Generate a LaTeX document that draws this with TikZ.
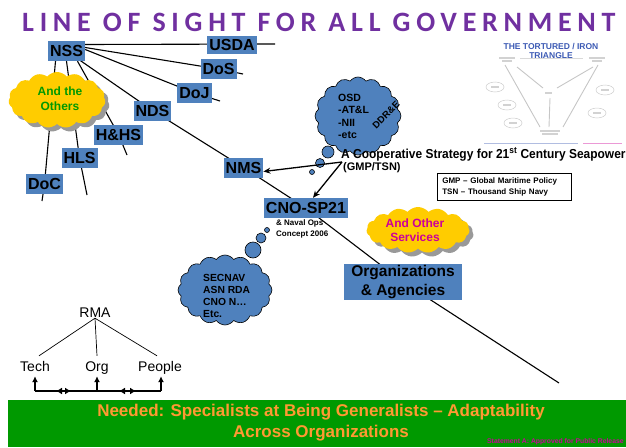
\documentclass[tikz,border=0pt]{standalone}
\usepackage{fontspec}
\setmainfont{Liberation Sans}
\newfontfamily\titlefont[LetterSpace=20.5]{Carlito}
\usetikzlibrary{shapes.symbols,shadows,arrows.meta,backgrounds}
\definecolor{boxblue}{RGB}{79,129,189}
\definecolor{titlepurple}{RGB}{112,48,160}
\definecolor{cloudyellow}{RGB}{255,204,0}
\definecolor{bannergreen}{RGB}{0,153,0}
\definecolor{bannerorange}{RGB}{255,153,51}
\definecolor{magtext}{RGB}{204,0,153}
\definecolor{othersgreen}{RGB}{0,153,0}
\definecolor{tritext}{RGB}{60,90,180}
\newcommand{\fsz}[2]{\fontsize{#1}{#2}\selectfont}
\begin{document}
\begin{tikzpicture}[x=1pt,y=-1pt,
  box/.style={fill=boxblue, inner xsep=2pt, inner ysep=0pt, minimum height=20pt, font=\bfseries\fsz{16}{18}, text=black},
  link/.style={line width=1.1pt, black},
  bubble/.style={circle, draw=black, line width=0.6pt, fill=boxblue, inner sep=0pt},
  bluecloud/.style={cloud, cloud puffs=16, cloud puff arc=110, draw=black, line width=0.6pt, fill=boxblue, inner sep=0pt},
  yellowcloud/.style={cloud, cloud puffs=15, cloud puff arc=100, fill=cloudyellow, inner sep=0pt, drop shadow={shadow xshift=4pt, shadow yshift=-4pt, fill=black!40, opacity=1}},
  arr/.style={line width=1.3pt, -{Stealth[length=7pt,width=6pt]}},
  rma/.style={font=\fsz{14}{16}, inner sep=0pt, text height=10pt, text depth=3pt, anchor=base},
  tri/.style={gray!45, line width=0.9pt},
  trilabel/.style={gray!35, line width=1.2pt},
  triell/.style={gray!40, line width=0.5pt},
  dbl/.style={line width=1.2pt, {Latex[length=6pt,width=7pt]}-{Latex[length=6pt,width=7pt]}},
  uparr/.style={line width=1.6pt, -{Latex[length=6pt,width=6pt]}},
]
\useasboundingbox (0,0) rectangle (626,447);

% title
\node[font=\titlefont\bfseries\fsz{28}{30}, text=titlepurple, anchor=west, inner sep=0] (title) at (22,22) {LINE OF SIGHT FOR ALL GOVERNMENT};

% boxes
\node[box] (NSS) at (66.5,51) {NSS};
\node[box, minimum height=18pt] (USDA) at (232,44.5) {USDA};
\node[box] (DoS) at (218.5,69) {DoS};
\node[box] (DoJ) at (194.5,93) {DoJ};
\node[box] (NDS) at (152.5,110.5) {NDS};
\node[box] (HHS) at (118.5,134.5) {H\&HS};
\node[box] (HLS) at (79.5,158) {HLS};
\node[box] (DoC) at (44.5,184) {DoC};
\node[box] (NMS) at (243.5,167.5) {NMS};
\node[box] (CNO) at (306,208) {CNO-SP21};
\node[box, align=center, inner ysep=1pt, font=\bfseries\fsz{15.5}{18.5}, minimum width=118pt] (Org) at (403,282) {Organizations\\\& Agencies};

% free ends
\coordinate (usdaEnd) at (275,44);
\coordinate (dosEnd) at (243,74);
\coordinate (dojEnd) at (220,101);
\coordinate (hhsEnd) at (127,155);
\coordinate (hlsEnd) at (87,195);
\coordinate (docEnd) at (42,201);
\coordinate (mainEnd) at (559,383);

\begin{scope}[on background layer]
\draw[link] (NSS.east |- USDA.center) -- (usdaEnd);
\draw[link] ([yshift=3.5pt]NSS.east) -- (DoS.center) -- (dosEnd);
\draw[link] ([yshift=1.5pt]NSS.east) -- (DoJ.center) -- (dojEnd);
\draw[link] (NSS.center) -- (NDS.center) -- (NMS.center) -- (CNO.center) -- (Org.center) -- (mainEnd);
\draw[link] ([xshift=-11pt]NSS.south) -- (DoC.center) -- (docEnd);
\draw[link] (NSS.south) -- (HLS.center) -- (hlsEnd);
\draw[link] ([xshift=11pt]NSS.south) -- (HHS.center) -- (hhsEnd);
\end{scope}

% yellow clouds
\node[yellowcloud, minimum width=97pt, minimum height=56pt] (others) at (57,100) {};
\node[font=\bfseries\fsz{12}{15}, text=othersgreen, align=center] (othersT) at (60,98.5) {And the\\Others};
\node[yellowcloud, minimum width=103pt, minimum height=46pt] (services) at (418,230) {};
\node[font=\bfseries\fsz{12}{14}, text=magtext, align=center] (servicesT) at (415,230) {And Other\\Services};

% OSD cloud
\node[bluecloud, minimum width=86pt, minimum height=78pt] (osd) at (358,116) {};
\node[font=\bfseries\fsz{10.5}{12.5}, align=left, anchor=west, inner sep=0] (osdT) at (338,116.5) {OSD\\-AT\&L\\-NII\\-etc};
\node[font=\bfseries\fsz{9.5}{11}, rotate=45, inner sep=0] (ddre) at (386,115) {DDR\&E};
\node[bubble, minimum size=12pt] (ob1) at (328,152) {};
\node[bubble, minimum size=9pt] (ob2) at (320,163) {};
\node[bubble, minimum size=5pt] (ob3) at (312,172) {};

% SECNAV cloud
\node[bluecloud, minimum width=94pt, minimum height=70pt] (sec) at (225,290) {};
\node[font=\bfseries\fsz{10.3}{12}, align=left, anchor=west, inner sep=0] (secT) at (203,296) {SECNAV\\ASN RDA\\CNO N…\\Etc.};
\node[bubble, minimum size=16pt] (sb1) at (253,250) {};
\node[bubble, minimum size=10pt] (sb2) at (261,238) {};
\node[bubble, minimum size=5pt] (sb3) at (267,230) {};

% cooperative strategy
\node[anchor=base west, inner sep=0, font=\bfseries\fsz{13}{15}] (coop) at (341,158) {\scalebox{0.92}[1]{A Cooperative Strategy for 21\textsuperscript{st} Century Seapower}};
\node[anchor=base west, inner sep=0, font=\bfseries\fsz{11}{13}] (gmptsn) at (343,170) {(GMP/TSN)};
\coordinate (coopStart) at (342,162);
\draw[arr] (coopStart) -- ([yshift=-4pt]NMS.east);
\draw[arr] (coopStart) -- ([xshift=7pt]CNO.north);

\node[draw=black, line width=0.6pt, fill=white, minimum width=134pt, minimum height=27pt, align=left, font=\bfseries\fsz{8}{11}, inner xsep=5pt, anchor=north west, text width=124pt] (legend) at (437,173) {GMP -- Global Maritime Policy\\TSN -- Thousand Ship Navy};

\node[anchor=north west, inner sep=0, align=left, font=\bfseries\fsz{8}{11}] (naval) at (276,219) {\& Naval Ops\\Concept 2006};

% tortured triangle picture
\node[font=\bfseries\fsz{8.5}{9}, text=tritext, align=center] (triTitle) at (551,51) {THE TORTURED / IRON\\TRIANGLE};
\draw[gray!30, line width=0.5pt] (520,58) -- (583,58);
\draw[tri] (517,67) -- (543,88);
\draw[tri] (593,67) -- (557,88);
\draw[tri] (550,98) -- (549,127);
\draw[tri] (505,65) -- (540,127);
\draw[tri] (598,65) -- (563,127);
\draw[trilabel] (499,58) -- (515,58);
\draw[trilabel] (502,61) -- (512,61);
\draw[trilabel] (589,58) -- (605,58);
\draw[trilabel] (592,61) -- (602,61);
\draw[trilabel] (545,93) -- (552,93);
\draw[trilabel] (540,131) -- (560,131);
\draw[trilabel] (542,134) -- (558,134);
\draw[triell] (495,87) ellipse (9 and 5);
\draw[trilabel] (491,87) -- (499,87);
\draw[triell] (507,105) ellipse (9 and 5);
\draw[trilabel] (503,105) -- (511,105);
\draw[triell] (513,123) ellipse (9 and 5);
\draw[trilabel] (509,123) -- (517,123);
\draw[triell] (605,90) ellipse (9 and 5);
\draw[trilabel] (601,90) -- (609,90);
\draw[triell] (597,113) ellipse (9 and 5);
\draw[trilabel] (593,113) -- (601,113);
\draw[tritext!40, line width=1pt] (484,143) -- (578,143);
\draw[magtext!40, line width=1pt] (583,143) -- (622,143);

% RMA
\node[rma] (RMA) at (95,317) {RMA};
\node[rma] (Tech) at (35,371) {Tech};
\node[rma] (OrgT) at (97,371) {Org};
\node[rma] (People) at (160,371) {People};
\draw[line width=0.7pt] ([yshift=2pt]RMA.south) -- ([xshift=4pt,yshift=5pt]Tech.north);
\draw[line width=0.7pt] ([yshift=2pt]RMA.south) -- ([yshift=5pt]OrgT.north);
\draw[line width=0.7pt] ([yshift=2pt]RMA.south) -- ([xshift=-3pt,yshift=5pt]People.north);
\coordinate (tb) at (35,391);
\coordinate (ob) at (97,391);
\coordinate (pb) at (161,391);
\draw[line width=1.6pt] (tb) -- (pb);
\draw[uparr] (tb) -- ([yshift=-2pt]Tech.south);
\draw[uparr] (ob) -- ([yshift=-2pt]OrgT.south);
\draw[uparr] (pb) -- ([yshift=-2pt,xshift=1pt]People.south);
\coordinate (d1l) at (56,391);
\coordinate (d1r) at (71,391);
\coordinate (d2l) at (119,391);
\coordinate (d2r) at (136,391);
\draw[dbl] (d1l) -- (d1r);
\draw[dbl] (d2l) -- (d2r);

% banner
\node[fill=bannergreen, minimum width=618pt, minimum height=47pt, anchor=north west, inner sep=0] (banner) at (8,400) {};
\node[font=\bfseries\fsz{17}{21}, text=bannerorange, align=center] (bannerT) at (321,422.5) {Needed: Specialists at Being Generalists -- Adaptability\\Across Organizations};
\node[anchor=west, inner sep=0, font=\bfseries\fsz{6.8}{8}, text=magtext] (stmt) at (487,441.5) {Statement A: Approved for Public Release};
\end{tikzpicture}
\end{document}
